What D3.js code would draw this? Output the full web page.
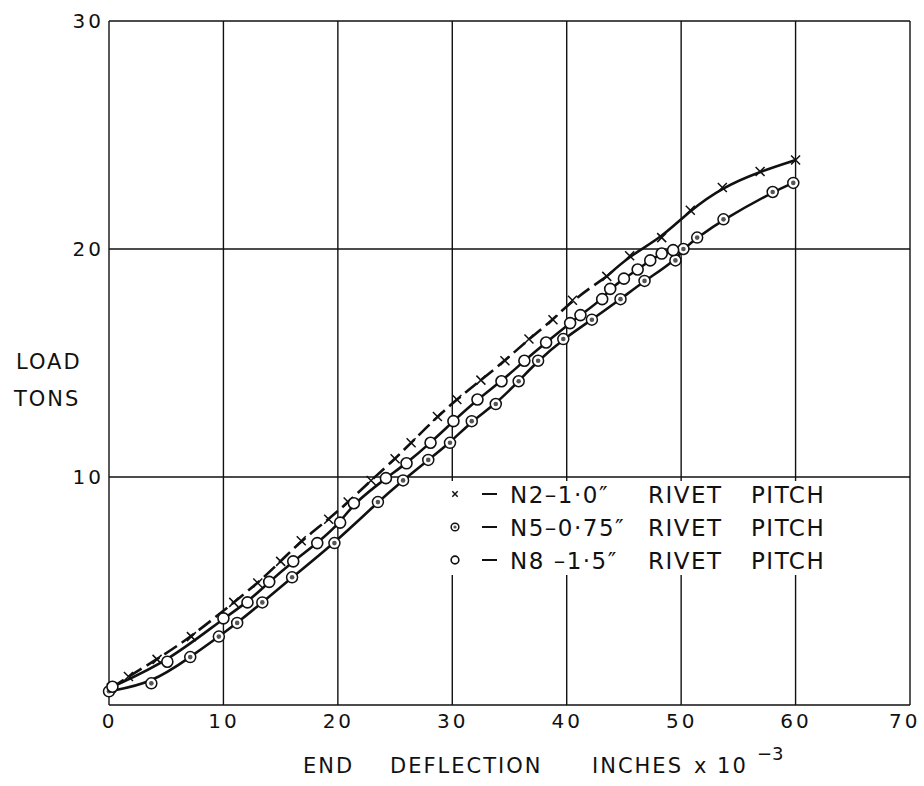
<!DOCTYPE html>
<html>
<head>
<meta charset="utf-8">
<script src="https://cdn.jsdelivr.net/npm/d3@7"></script>
<style>
    body { margin: 0; background: #fff; }
    svg { display: block; }
    text { font-family: "DejaVu Sans", sans-serif; fill: #111; }
</style>
</head>
<body>
<svg id="chart" width="924" height="786"></svg>
<script>

// ---- data (deflection in 1e-3 in, load in tons) ----
const xTicks = [0, 10, 20, 30, 40, 50, 60, 70];
const yTicks = [10, 20, 30];

const n2Defl = [0.2, 1.7, 4.2, 7.2, 10.9, 13.0, 15.0, 16.8, 19.2, 20.9, 22.9, 25.0, 26.4, 28.7,
    30.4, 32.5, 34.6, 36.7, 38.8, 40.5, 43.5, 45.5, 48.3, 50.8, 53.6, 56.9, 60.0];
const n2Load = [0.75, 1.25, 2.0, 3.0, 4.5, 5.35, 6.3, 7.2, 8.15, 8.9, 9.85, 10.8, 11.5, 12.65,
    13.4, 14.25, 15.1, 16.05, 16.9, 17.75, 18.8, 19.7, 20.5, 21.7, 22.7, 23.4, 23.9];

const n5Defl = [0.0, 3.7, 7.1, 9.6, 11.2, 13.4, 16.0, 19.7, 23.5, 25.7, 27.9, 29.8, 31.7, 33.8,
    35.8, 37.5, 39.7, 42.2, 44.7, 46.8, 49.5, 50.2, 51.4, 53.7, 58.0, 59.8];
const n5Load = [0.6, 0.95, 2.1, 3.0, 3.6, 4.5, 5.6, 7.1, 8.9, 9.85, 10.75, 11.5, 12.45, 13.2,
    14.2, 15.1, 16.05, 16.9, 17.8, 18.6, 19.5, 20.0, 20.5, 21.3, 22.5, 22.9];

const n8Defl = [0.3, 5.1, 10.0, 12.1, 14.0, 16.1, 18.2, 20.2, 21.4, 24.2, 26.0, 28.1, 30.1, 32.2,
    34.3, 36.3, 38.2, 40.3, 41.2, 43.1, 43.8, 45.0, 46.2, 47.3, 48.3, 49.3];
const n8Load = [0.8, 1.9, 3.8, 4.5, 5.4, 6.3, 7.1, 8.0, 8.85, 9.95, 10.6, 11.5, 12.45, 13.4,
    14.2, 15.1, 15.9, 16.75, 17.1, 17.8, 18.25, 18.7, 19.1, 19.5, 19.8, 19.95];

// N2 curve is drawn dashed up to here, solid beyond
const n2DashedUntil = 43.5;

const legendLabels = ['N2\u20131\u00b70\u2033', 'N5\u20130\u00b775\u2033', 'N8 \u20131\u00b75\u2033'];

// ---- layout ----
const svg = d3.select('#chart');
const plotLeft = 109, plotRight = 910, plotTop = 21, plotBottom = 705;

const xScale = d3.scaleLinear().domain([0, 70]).range([plotLeft, plotRight]);
const yScale = d3.scaleLinear().domain([0, 30]).range([plotBottom, plotTop]);

const zip = (xs, ys) => xs.map((x, i) => ({x: x, y: ys[i]}));

const series = [
    {key: 'n2', points: zip(n2Defl, n2Load), marker: 'cross'},
    {key: 'n5', points: zip(n5Defl, n5Load), marker: 'dotted'},
    {key: 'n8', points: zip(n8Defl, n8Load), marker: 'open'}
];

// ---- grid & frame ----
const grid = svg.append('g').attr('class', 'grid');

grid.selectAll('line.v')
    .data(xTicks)
    .enter()
    .append('line')
    .attr('x1', d => xScale(d))
    .attr('x2', d => xScale(d))
    .attr('y1', yScale(30))
    .attr('y2', yScale(0))
    .attr('stroke', '#111')
    .attr('stroke-width', 1.4);

grid.selectAll('line.h')
    .data([0].concat(yTicks))
    .enter()
    .append('line')
    .attr('x1', xScale(0))
    .attr('x2', xScale(70))
    .attr('y1', d => yScale(d))
    .attr('y2', d => yScale(d))
    .attr('stroke', '#111')
    .attr('stroke-width', 1.4);

// ---- axes labels ----
const xAxis = d3.axisBottom(xScale).tickValues(xTicks).tickSize(0).tickPadding(9);
const xg = svg.append('g').attr('transform', `translate(0, ${plotBottom})`).call(xAxis);
xg.select('.domain').remove();
xg.selectAll('text')
    .attr('font-size', 20)
    .attr('letter-spacing', 3)
    .attr('fill', '#111')
    .attr('font-family', '"DejaVu Sans", sans-serif');
// last label sits flush with the right edge
xg.selectAll('.tick')
    .filter(d => d === 70)
    .select('text')
    .attr('text-anchor', 'end')
    .attr('dx', 10);

const yAxis = d3.axisLeft(yScale).tickValues(yTicks).tickSize(0).tickPadding(5);
const yg = svg.append('g').attr('transform', `translate(${plotLeft}, 0)`).call(yAxis);
yg.select('.domain').remove();
yg.selectAll('text')
    .attr('font-size', 20)
    .attr('letter-spacing', 3)
    .attr('fill', '#111')
    .attr('font-family', '"DejaVu Sans", sans-serif');

svg.append('text').attr('x', 16).attr('y', 369)
    .attr('font-size', 21).attr('letter-spacing', 2).text('LOAD');
svg.append('text').attr('x', 14).attr('y', 406)
    .attr('font-size', 21).attr('letter-spacing', 2).text('TONS');

const xTitle = svg.append('text').attr('y', 773).attr('font-size', 21).attr('letter-spacing', 2);
xTitle.append('tspan').attr('x', 303).text('END');
xTitle.append('tspan').attr('x', 390).text('DEFLECTION');
xTitle.append('tspan').attr('x', 592).text('INCHES');
xTitle.append('tspan').attr('x', 694).attr('letter-spacing', 2).text('x 10');
svg.append('text').attr('x', 757).attr('y', 760).attr('font-size', 18).text('\u22123');

// ---- curves ----
const line = d3.line()
    .x(d => xScale(d.x))
    .y(d => yScale(d.y))
    .curve(d3.curveBasis);

const curves = svg.append('g').attr('class', 'curves');

const n2 = series[0].points;
const n2Dashed = n2.filter(d => d.x <= n2DashedUntil);
const n2Solid = n2.filter(d => d.x >= n2DashedUntil);

curves.append('path')
    .attr('d', line(n2Dashed))
    .attr('fill', 'none')
    .attr('stroke', '#111')
    .attr('stroke-width', 2.6)
    .attr('stroke-dasharray', '15,6');

curves.append('path')
    .attr('d', line(n2Solid))
    .attr('fill', 'none')
    .attr('stroke', '#111')
    .attr('stroke-width', 2.6);

[series[1], series[2]].forEach(s => {
    curves.append('path')
        .attr('d', line(s.points))
        .attr('fill', 'none')
        .attr('stroke', '#111')
        .attr('stroke-width', 2.6);
});

// ---- markers ----
function drawMarker(g, type, x, y, scale) {
    const k = scale || 1;
    if (type === 'cross') {
        const r = 4.5 * k;
        g.append('path')
            .attr('d', `M${x - r},${y - r}L${x + r},${y + r}M${x - r},${y + r}L${x + r},${y - r}`)
            .attr('stroke', '#111')
            .attr('stroke-width', 1.5);
    } else if (type === 'dotted') {
        g.append('circle').attr('cx', x).attr('cy', y).attr('r', 5.5 * k)
            .attr('fill', '#fff').attr('stroke', '#111').attr('stroke-width', 1.5);
        g.append('circle').attr('cx', x).attr('cy', y).attr('r', 2.3 * k)
            .attr('fill', '#555');
    } else {
        g.append('circle').attr('cx', x).attr('cy', y).attr('r', 5.5 * k)
            .attr('fill', '#fff').attr('stroke', '#111').attr('stroke-width', 1.6);
    }
}

const markers = svg.append('g').attr('class', 'markers');
series.forEach(s => {
    s.points.forEach(p => drawMarker(markers, s.marker, xScale(p.x), yScale(p.y)));
});

// ---- legend ----
const legend = svg.append('g').attr('class', 'legend');
const legendRows = [494, 527, 560];
legend.append('rect')
    .attr('x', 440).attr('y', legendRows[0] - 13)
    .attr('width', 395).attr('height', legendRows[2] - legendRows[0] + 28)
    .attr('fill', '#fff');
series.forEach((s, i) => {
    const cy = legendRows[i];
    drawMarker(legend, s.marker, 455, cy, s.marker === 'cross' ? 0.6 : 0.7);
    legend.append('line')
        .attr('x1', 482).attr('x2', 497).attr('y1', cy).attr('y2', cy)
        .attr('stroke', '#111').attr('stroke-width', 2);
    const t = legend.append('text').attr('y', cy + 9).attr('font-size', 23).attr('letter-spacing', 1.5);
    t.append('tspan').attr('x', 510).text(legendLabels[i]);
    t.append('tspan').attr('x', 648).text('RIVET');
    t.append('tspan').attr('x', 751).text('PITCH');
});

</script>
</body>
</html>
